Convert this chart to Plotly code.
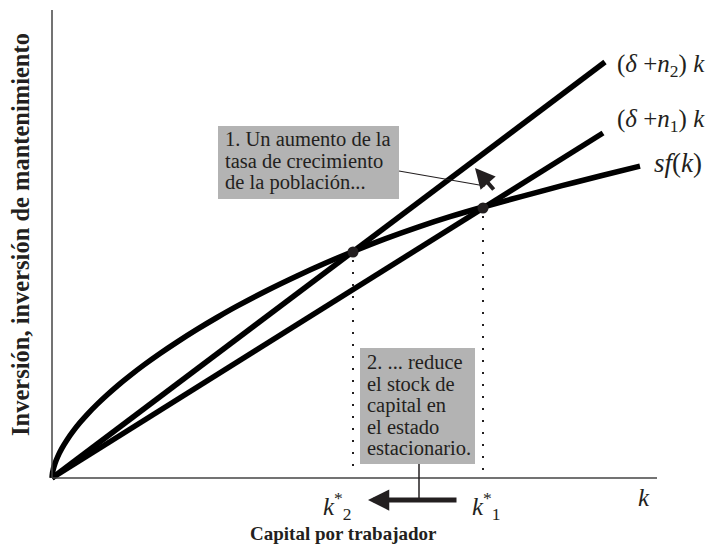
import plotly.graph_objects as go

# ---- data (conceptual units) ----
k_n2 = [0, 553]
inv_n2 = [0, 416]
k_n1 = [0, 551]
inv_n1 = [0, 345]
k_sf = [0, 0.5, 1, 2, 4, 7, 10, 15, 21, 28, 36, 45, 55, 66, 78, 92, 108, 125, 145, 165, 185,
        215, 245, 273, 301, 333, 366, 398, 431, 470, 510, 550, 588]
sf = [0, 5, 7.5, 11.4, 17.2, 24.1, 29.9, 38.1, 46.6, 55.4, 64.4, 73.6, 83, 92.7, 102.4, 113.1, 124.5,
      135.9, 148.6, 160.5, 171.8, 187.5, 202, 214.7, 226.5, 239.1, 250.9, 261.3, 271, 281.7, 292.3,
      302.5, 311.8]
k_star = [301, 431]
inv_star = [226, 270]
k_axis_end = 605
inv_axis_end = 468

box1_lines = ["1. Un aumento de la", "tasa de crecimiento", "de la población..."]
box2_lines = ["2. ... reduce", "el stock de", "capital en", "el estado", "estacionario."]

INK = "#231f20"
SERIF = "Liberation Serif, Times New Roman, serif"
GRAY = "#b3b3b3"

fig = go.Figure()
for xs, ys, name in [(k_n2, inv_n2, "(δ+n2)k"), (k_n1, inv_n1, "(δ+n1)k")]:
    fig.add_trace(go.Scatter(x=xs, y=ys, mode="lines", name=name,
                             line=dict(color="black", width=5.5), cliponaxis=False))
fig.add_trace(go.Scatter(x=k_sf, y=sf, mode="lines", name="sf(k)",
                         line=dict(color="black", width=5.5, shape="spline", smoothing=1.0),
                         cliponaxis=False))
fig.add_trace(go.Scatter(x=k_star, y=inv_star, mode="markers", name="steady states",
                         marker=dict(color=INK, size=11), cliponaxis=False))

shapes = []
# axes
shapes.append(dict(type="line", x0=0, y0=0, x1=k_axis_end, y1=0, line=dict(color="#444", width=1.5)))
shapes.append(dict(type="line", x0=0, y0=0, x1=0, y1=inv_axis_end, line=dict(color="#444", width=1.5)))
# dotted drop lines
for ks, ys in zip(k_star, inv_star):
    shapes.append(dict(type="line", x0=ks, y0=ys - 8, x1=ks, y1=2,
                       line=dict(color=INK, width=2, dash="2px,10px")))
# boxes
shapes.append(dict(type="rect", x0=166, y0=279, x1=347, y1=352, fillcolor=GRAY, line=dict(width=0), layer="above"))
shapes.append(dict(type="rect", x0=308, y0=14, x1=423, y1=130, fillcolor=GRAY, line=dict(width=0), layer="above"))
# leader lines
shapes.append(dict(type="line", x0=347, y0=307, x1=433, y1=292, line=dict(color=INK, width=1.2)))
shapes.append(dict(type="line", x0=367, y0=14, x1=367, y1=-22, line=dict(color=INK, width=1.5)))

ann = []
# arrows
ann.append(dict(x=423, y=310, ax=443, ay=287, xref="x", yref="y", axref="x", ayref="y",
                text="", showarrow=True, arrowhead=2, arrowsize=1.0, arrowwidth=4, arrowcolor=INK, standoff=0))
ann.append(dict(x=316, y=-22, ax=406, ay=-22, xref="x", yref="y", axref="x", ayref="y",
                text="", showarrow=True, arrowhead=2, arrowsize=0.85, arrowwidth=5, arrowcolor=INK, standoff=0))
# box texts (one annotation per line for tight leading)
box_font = dict(family=SERIF, size=20.5, color=INK)
for i, t in enumerate(box1_lines):
    ann.append(dict(x=171, y=339 - 21.5 * i, xanchor="left", yanchor="middle", showarrow=False,
                    font=box_font, text=t))
for i, t in enumerate(box2_lines):
    ann.append(dict(x=313, y=116 - 21.5 * i, xanchor="left", yanchor="middle", showarrow=False,
                    font=box_font, text=t))
# curve labels
lab_font = dict(family=SERIF, size=25, color=INK)
ann.append(dict(x=563, y=413, xanchor="left", yanchor="middle", showarrow=False, font=lab_font,
                text="(<i>δ</i> +<i>n</i><sub>2</sub>) <i>k</i>"))
ann.append(dict(x=563, y=358, xanchor="left", yanchor="middle", showarrow=False, font=lab_font,
                text="(<i>δ</i> +<i>n</i><sub>1</sub>) <i>k</i>"))
ann.append(dict(x=600, y=315, xanchor="left", yanchor="middle", showarrow=False,
                font=dict(family=SERIF, size=27, color=INK),
                text="<i>sf</i>(<i>k</i>)"))
# axis labels
ann.append(dict(x=592, y=-19, xanchor="center", yanchor="middle", showarrow=False, font=lab_font,
                text="<i>k</i>"))
ann.append(dict(x=285, y=-28, xanchor="center", yanchor="middle", showarrow=False, font=lab_font,
                text="<i>k</i><sup>*</sup><sub>2</sub>"))
ann.append(dict(x=434, y=-28, xanchor="center", yanchor="middle", showarrow=False, font=lab_font,
                text="<i>k</i><sup>*</sup><sub>1</sub>"))
ann.append(dict(x=291, y=-55, xanchor="center", yanchor="middle", showarrow=False,
                font=dict(family=SERIF, size=19, color=INK), text="<b>Capital por trabajador</b>"))
ann.append(dict(x=-32, y=243, xanchor="center", yanchor="middle", showarrow=False, textangle=-90,
                font=dict(family=SERIF, size=24.5, color=INK),
                text="<b>Inversión, inversión de mantenimiento</b>"))

fig.update_layout(
    width=712, height=554,
    margin=dict(l=0, r=0, t=0, b=0),
    paper_bgcolor="white", plot_bgcolor="white",
    showlegend=False,
    shapes=shapes, annotations=ann,
    xaxis=dict(range=[-52, 660], visible=False, fixedrange=True),
    yaxis=dict(range=[-76, 478], visible=False, fixedrange=True),
)
fig.write_html("out.html", config={"displayModeBar": False},
               post_script="document.body.style.margin='0px';")
